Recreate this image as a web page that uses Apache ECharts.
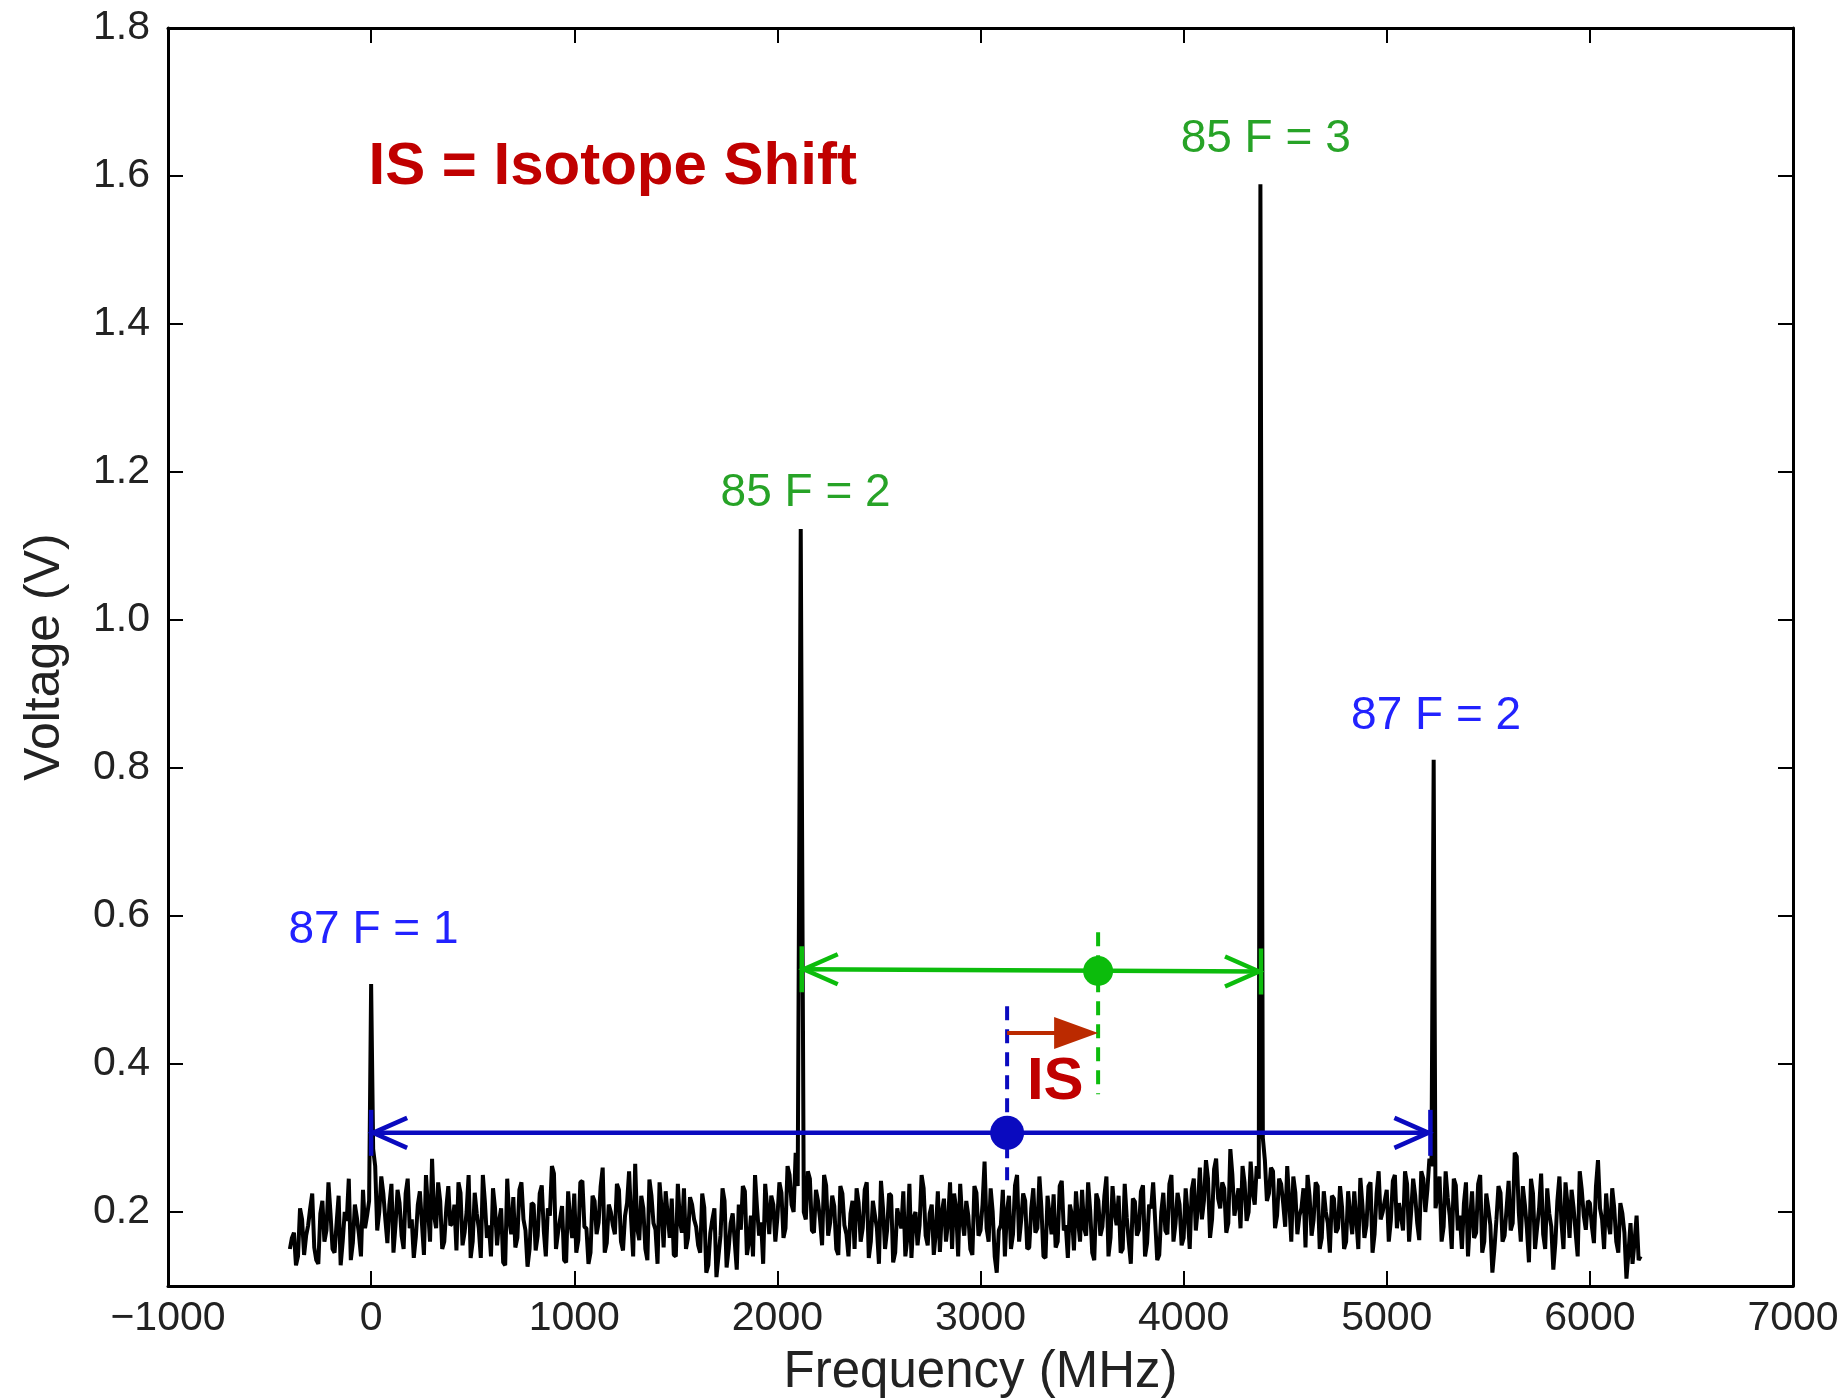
<!DOCTYPE html>
<html><head><meta charset="utf-8">
<script src="https://cdn.jsdelivr.net/npm/echarts@6/dist/echarts.min.js"></script>
<style>html,body{margin:0;padding:0;background:#fff}#c{width:1846px;height:1400px}</style>
</head><body><div id="c"></div>
<script>
// ---------- data ----------
const yTicks = [0.2, 0.4, 0.6, 0.8, 1.0, 1.2, 1.4, 1.6, 1.8];
const noiseStart = -400, noiseStep = 20; // MHz, samples at -400, -380, ...
const noiseV = [
0.150,0.172,0.140,0.190,0.168,0.205,0.152,0.130,0.215,0.175,0.198,0.145,0.222,0.160,0.188,0.135,0.210,0.170,0.230,0.195,
0.240,0.262,0.200,0.225,0.158,0.238,0.182,0.212,0.150,0.245,0.190,0.166,0.228,0.142,0.205,0.272,0.178,0.215,0.160,0.235,
0.185,0.148,0.226,0.172,0.250,0.160,0.198,0.138,0.214,0.182,0.232,0.155,0.205,0.128,0.190,0.220,0.165,0.240,0.175,0.150,
0.210,0.168,0.236,0.140,0.195,0.252,0.172,0.208,0.132,0.188,0.225,0.162,0.242,0.178,0.145,0.215,0.186,0.260,0.158,0.200,
0.170,0.230,0.148,0.212,0.190,0.265,0.162,0.205,0.135,0.222,0.176,0.240,0.152,0.196,0.218,0.140,0.188,0.232,0.165,0.210,
0.180,0.145,0.206,0.128,0.190,0.112,0.168,0.215,0.150,0.198,0.122,0.176,0.228,0.160,0.140,0.205,0.186,0.238,0.170,0.210,
0.192,0.226,0.178,0.250,0.200,0.235,0.268,0.190,0.245,0.172,0.215,0.155,0.236,0.186,0.208,0.142,0.225,0.170,0.198,0.150,
0.212,0.178,0.240,0.160,0.196,0.130,0.205,0.175,0.222,0.145,0.190,0.228,0.165,0.138,0.200,0.182,0.232,0.155,0.210,0.172,
0.146,0.218,0.185,0.150,0.205,0.238,0.168,0.195,0.142,0.226,0.175,0.268,0.160,0.200,0.118,0.182,0.140,0.222,0.170,0.250,
0.188,0.215,0.152,0.232,0.178,0.205,0.138,0.196,0.224,0.160,0.242,0.182,0.210,0.148,0.190,0.230,0.168,0.202,0.135,0.215,
0.180,0.248,0.165,0.200,0.222,0.150,0.192,0.130,0.214,0.176,0.236,0.158,0.205,0.188,0.142,0.226,0.170,0.250,0.184,0.210,
0.165,0.198,0.230,0.175,0.260,0.215,0.245,0.190,0.272,0.205,0.232,0.185,0.250,0.212,0.178,0.240,0.200,0.226,0.262,0.280,
0.270,0.225,0.255,0.195,0.238,0.180,0.214,0.248,0.170,0.205,0.152,0.222,0.190,0.235,0.165,0.200,0.145,0.218,0.178,0.206,
0.160,0.196,0.228,0.150,0.210,0.182,0.240,0.170,0.255,0.200,0.230,0.188,0.250,0.212,0.175,0.238,0.200,0.222,0.162,0.245,
0.230,0.262,0.205,0.248,0.180,0.220,0.150,0.236,0.195,0.212,0.140,0.228,0.172,0.250,0.160,0.205,0.118,0.190,0.226,0.168,
0.242,0.185,0.275,0.160,0.210,0.132,0.225,0.178,0.252,0.150,0.198,0.122,0.215,0.186,0.240,0.165,0.205,0.140,0.230,0.176,
0.212,0.158,0.270,0.190,0.225,0.170,0.205,0.145,0.198,0.110,0.185,0.160,0.135
];
const noiseMidStart = -390; // in-between samples at -390, -370, ...
const noiseMidV = [
0.165,0.128,0.205,0.142,0.182,0.225,0.135,0.198,0.160,0.240,0.150,0.185,0.128,0.200,0.245,0.158,0.192,0.140,0.178,0.215,
0.285,0.175,0.248,0.190,0.210,0.145,0.230,0.168,0.225,0.178,0.138,0.210,0.185,0.250,0.160,0.195,0.240,0.150,0.205,0.182,
0.210,0.240,0.155,0.200,0.138,0.226,0.178,0.250,0.165,0.140,0.205,0.188,0.132,0.245,0.170,0.152,0.230,0.190,0.126,0.212,
0.148,0.225,0.175,0.205,0.262,0.150,0.190,0.135,0.228,0.165,0.145,0.240,0.180,0.130,0.222,0.170,0.235,0.145,0.210,0.182,
0.238,0.160,0.195,0.255,0.140,0.178,0.222,0.150,0.244,0.185,0.130,0.205,0.228,0.165,0.142,0.238,0.172,0.150,0.220,0.190,
0.155,0.225,0.118,0.172,0.205,0.140,0.232,0.125,0.185,0.160,0.210,0.235,0.142,0.195,0.250,0.168,0.130,0.205,0.222,0.160,
0.240,0.165,0.262,0.210,0.280,0.215,0.200,0.255,0.175,0.230,0.190,0.250,0.168,0.222,0.150,0.235,0.182,0.140,0.215,0.232,
0.160,0.230,0.138,0.215,0.178,0.242,0.150,0.225,0.132,0.205,0.178,0.140,0.238,0.192,0.155,0.250,0.168,0.198,0.142,0.228,
0.200,0.160,0.240,0.225,0.140,0.190,0.215,0.150,0.235,0.168,0.210,0.178,0.232,0.140,0.175,0.230,0.200,0.150,0.236,0.160,
0.225,0.150,0.205,0.172,0.248,0.140,0.222,0.170,0.152,0.235,0.175,0.138,0.196,0.228,0.160,0.178,0.240,0.145,0.225,0.168,
0.222,0.140,0.235,0.182,0.145,0.238,0.160,0.218,0.168,0.228,0.140,0.210,0.240,0.135,0.200,0.175,0.238,0.160,0.226,0.155,
0.232,0.150,0.245,0.205,0.190,0.270,0.165,0.258,0.218,0.240,0.172,0.285,0.195,0.232,0.262,0.188,0.268,0.210,0.245,0.300,
0.215,0.260,0.178,0.245,0.212,0.262,0.160,0.226,0.195,0.232,0.250,0.168,0.240,0.150,0.228,0.185,0.222,0.172,0.235,0.150,
0.228,0.170,0.190,0.246,0.165,0.235,0.145,0.225,0.190,0.215,0.160,0.242,0.178,0.195,0.255,0.160,0.245,0.185,0.255,0.200,
0.272,0.190,0.222,0.160,0.255,0.195,0.245,0.175,0.150,0.240,0.190,0.165,0.238,0.145,0.225,0.182,0.150,0.235,0.160,0.205,
0.175,0.280,0.200,0.235,0.178,0.245,0.150,0.205,0.170,0.232,0.180,0.158,0.248,0.150,0.210,0.230,0.172,0.255,0.195,0.215,
0.180,0.235,0.205,0.150,0.188,0.232,0.160,0.212,0.172,0.145,0.130,0.195,0.140
];
const peakX = [0, 2115, 4378, 5231];
const peakV = [0.508, 1.123, 1.589, 0.811];
const peakLabels = ['87 F = 1', '85 F = 2', '85 F = 3', '87 F = 2'];
const peakLabelX = [12, 2139, 4404, 5243];
const peakLabelY = [0.580, 1.171, 1.649, 0.870];

// spans: [x1, y1, x2, y2]
const blueSpan = [0, 0.307, 5215, 0.307];
const greenSpan = [2120, 0.528, 4381, 0.525];
const blueCenter = [3131, 0.307];
const greenCenter = [3579, 0.5257];
const blueDash = [[3131, 0.478], [3131, 0.243]];
const greenDash = [[3579, 0.578], [3579, 0.359]];
const isArrow = [3131, 0.442, 3579, 0.442];
const isLabel = [3368, 0.375];
const titleText = 'IS = Isotope Shift';
const titlePos = [-13, 1.612];

// ---------- build ----------
const signal = [];
function addNoise(start, vals) {
  vals.forEach((v, i) => {
    const x = start + i * noiseStep;
    if (peakX.some(p => Math.abs(p - x) < 6)) return;
    signal.push([x, v]);
  });
}
addNoise(noiseStart, noiseV);
addNoise(noiseMidStart, noiseMidV);
peakX.forEach((x, i) => signal.push([x, peakV[i]]));
signal.sort((a, b) => a[0] - b[0]);

const FONT = '"Liberation Sans", Arial, sans-serif';
const BLUE_A = '#0a0abf', GREEN_A = '#0cbc0c', RED_A = '#bb2a00', RED_T = '#c00000';
const labelColors = ['#2222ff', '#27a327', '#27a327', '#2222ff'];
const spanColors = [BLUE_A, GREEN_A];

function renderSpan(params, api) {
  const a = api.coord([api.value(0), api.value(1)]);
  const b = api.coord([api.value(2), api.value(3)]);
  const c = spanColors[params.dataIndex];
  const st = () => ({ stroke: c, lineWidth: 4.5, fill: null });
  const H = 36, W = 15, CAP = 23;
  return { type: 'group', children: [
    { type: 'line', shape: { x1: a[0], y1: a[1], x2: b[0], y2: b[1] }, style: st() },
    { type: 'line', shape: { x1: a[0], y1: a[1] - CAP, x2: a[0], y2: a[1] + CAP }, style: st() },
    { type: 'line', shape: { x1: b[0], y1: b[1] - CAP, x2: b[0], y2: b[1] + CAP }, style: st() },
    { type: 'polyline', shape: { points: [[a[0] + H, a[1] - W], [a[0] + 2, a[1]], [a[0] + H, a[1] + W]] }, style: st() },
    { type: 'polyline', shape: { points: [[b[0] - H, b[1] - W], [b[0] - 2, b[1]], [b[0] - H, b[1] + W]] }, style: st() }
  ]};
}
function renderIS(params, api) {
  const a = api.coord([api.value(0), api.value(1)]);
  const b = api.coord([api.value(2), api.value(3)]);
  const L = 44, W = 16;
  return { type: 'group', children: [
    { type: 'line', shape: { x1: a[0], y1: a[1], x2: b[0] - L + 2, y2: b[1] }, style: { stroke: RED_A, lineWidth: 4 } },
    { type: 'polygon', shape: { points: [[b[0], b[1]], [b[0] - L, b[1] - W], [b[0] - L, b[1] + W]] }, style: { fill: RED_A } }
  ]};
}
function textRenderer(texts, colors, size, weight, align) {
  return function (params, api) {
    const p = api.coord([api.value(0), api.value(1)]);
    return { type: 'text', x: p[0], y: p[1], style: {
      text: texts[params.dataIndex], fill: colors[params.dataIndex],
      fontSize: size, fontWeight: weight, fontFamily: FONT,
      align: align, verticalAlign: 'middle' } };
  };
}

const axisLine = { show: true, onZero: false, lineStyle: { color: '#000', width: 3 } };
const tick = { show: true, inside: true, length: 15, lineStyle: { color: '#000', width: 2 } };
const fmtX = v => v < 0 ? '\u2212' + Math.abs(v) : String(v);

const option = {
  animation: false,
  backgroundColor: '#fff',
  grid: { left: 168, right: 53, top: 28, bottom: 114, containLabel: false, outerBoundsMode: 'none' },
  xAxis: [
    { type: 'value', min: -1000, max: 7000, interval: 1000, position: 'bottom',
      axisLine, axisTick: tick, splitLine: { show: false },
      axisLabel: { formatter: fmtX, fontSize: 41, color: '#222', fontFamily: FONT, margin: 12 },
      name: 'Frequency (MHz)', nameLocation: 'middle', nameGap: 61,
      nameTextStyle: { fontSize: 51, color: '#222', fontFamily: FONT } },
    { type: 'value', min: -1000, max: 7000, interval: 1000, position: 'top',
      axisLine, axisTick: tick, splitLine: { show: false }, axisLabel: { show: false } }
  ],
  yAxis: [
    { type: 'value', min: 0.1, max: 1.8, position: 'left',
      axisLine, axisTick: Object.assign({ customValues: yTicks }, tick), splitLine: { show: false },
      axisLabel: { customValues: yTicks, formatter: v => v.toFixed(1), fontSize: 41, color: '#222', fontFamily: FONT, margin: 18 },
      name: 'Voltage (V)', nameLocation: 'middle', nameGap: 98,
      nameTextStyle: { fontSize: 50, color: '#222', fontFamily: FONT } },
    { type: 'value', min: 0.1, max: 1.8, position: 'right',
      axisLine, axisTick: Object.assign({ customValues: yTicks }, tick), splitLine: { show: false },
      axisLabel: { show: false, customValues: yTicks } }
  ],
  series: [
    { name: 'signal', type: 'line', data: signal, showSymbol: false, symbol: 'none',
      lineStyle: { color: '#000', width: 4 }, z: 2 },
    { type: 'line', data: blueDash, symbol: 'none', lineStyle: { color: BLUE_A, width: 4, type: [14, 9] }, z: 3 },
    { type: 'line', data: greenDash, symbol: 'none', lineStyle: { color: GREEN_A, width: 4, type: [14, 9] }, z: 3 },
    { type: 'custom', renderItem: renderSpan, data: [blueSpan, greenSpan], encode: { x: [0, 2], y: [1, 3] }, z: 4 },
    { type: 'custom', renderItem: renderIS, data: [isArrow], encode: { x: [0, 2], y: [1, 3] }, z: 4 },
    { type: 'scatter', data: [blueCenter], symbolSize: 34, itemStyle: { color: BLUE_A, opacity: 1 }, z: 5 },
    { type: 'scatter', data: [greenCenter], symbolSize: 30, itemStyle: { color: GREEN_A, opacity: 1 }, z: 5 },
    { type: 'custom', renderItem: textRenderer(peakLabels, labelColors, 46, 'normal', 'center'),
      data: peakLabelX.map((x, i) => [x, peakLabelY[i]]), z: 6 },
    { type: 'custom', renderItem: textRenderer(['IS'], [RED_T], 60, 'bold', 'center'), data: [isLabel], z: 6 },
    { type: 'custom', renderItem: textRenderer([titleText], [RED_T], 60, 'bold', 'left'), data: [titlePos], z: 6 }
  ]
};
const chart = echarts.init(document.getElementById('c'), null, { renderer: 'canvas' });
chart.setOption(option);
</script></body></html>
